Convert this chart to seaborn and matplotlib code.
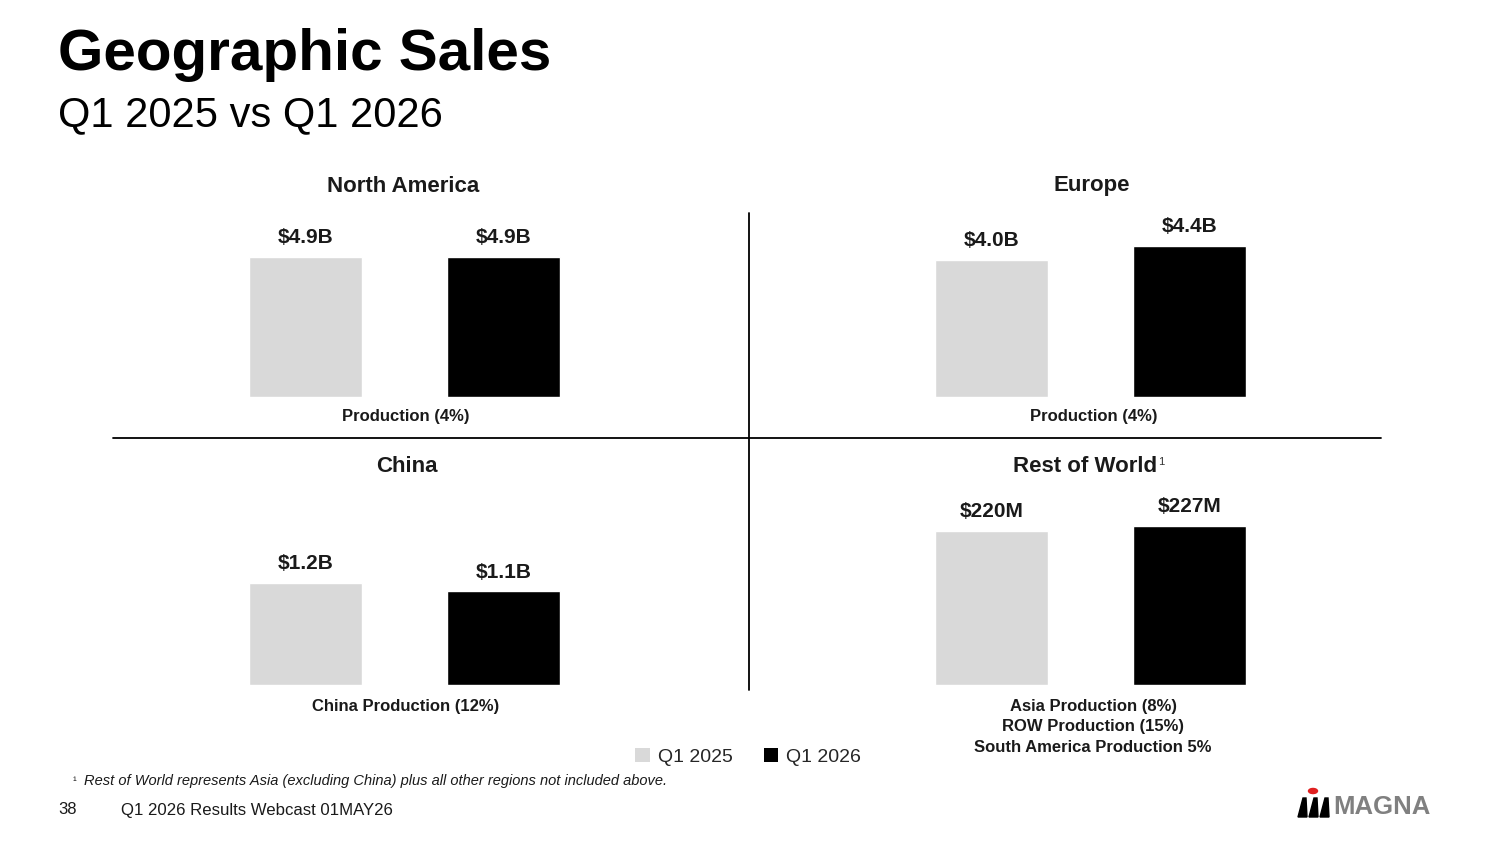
import matplotlib
matplotlib.use("Agg")
import matplotlib.pyplot as plt
from matplotlib.patches import Patch, Circle, Polygon
from matplotlib.lines import Line2D
import seaborn as sns
import pandas as pd

# data
regions = ["North America", "Europe", "China", "Rest of World"]
q1_2025 = [4.9, 4.0, 1.2, 220]
q1_2026 = [4.9, 4.4, 1.1, 227]
lbl_2025 = ["$4.9B", "$4.0B", "$1.2B", "$220M"]
lbl_2026 = ["$4.9B", "$4.4B", "$1.1B", "$227M"]
notes = ["Production (4%)", "Production (4%)", "China Production (12%)",
         "Asia Production (8%)\nROW Production (15%)\nSouth America Production 5%"]
periods = ["Q1 2025", "Q1 2026"]
colors = ["#d9d9d9", "#000000"]

# per-panel y limit (each panel has its own scale on the slide)
ymax = [6.37, 5.30, 2.21, 268.4]

sns.set_theme(style="white")
plt.rcParams["font.family"] = ["Liberation Sans", "DejaVu Sans"]

W, H = 1500, 844
fig = plt.figure(figsize=(15, 8.44), dpi=100)
fig.patch.set_facecolor("white")

def fx(px):
    return px / W

def fy(py):
    return 1 - py / H

# axes boxes in pixels: left, top, right, bottom
boxes = [(206, 215, 603, 397), (892, 215, 1289, 397),
         (206, 497, 603, 685), (892, 497, 1289, 685)]
title_y = [186, 186, 467, 467]
title_x = [403, 1092, 407, 1085]
note_x = [406, 1094, 406, 1093]
note_y = [416, 416, 707, 727]

for i, reg in enumerate(regions):
    l, t, r, b = boxes[i]
    ax = fig.add_axes([fx(l), fy(b), fx(r - l), (b - t) / H])
    df = pd.DataFrame({"period": periods, "value": [q1_2025[i], q1_2026[i]]})
    sns.barplot(data=df, x="period", y="value", hue="period", palette=colors,
                width=0.57, legend=False, ax=ax, saturation=1)
    ax.set_ylim(0, ymax[i])
    ax.set_xlim(-0.5, 1.5)
    ax.axis("off")
    for j, cont in enumerate(ax.containers):
        ax.bar_label(cont, labels=[[lbl_2025[i], lbl_2026[i]][j]], padding=7,
                     fontsize=15, fontweight="bold", color="#1a1a1a")
    fig.text(fx(title_x[i]), fy(title_y[i]), reg, ha="center", va="center",
             fontsize=16, fontweight="bold", color="#1a1a1a")
    fig.text(fx(note_x[i]), fy(note_y[i]), notes[i], ha="center", va="center",
             fontsize=12, fontweight="bold", color="#1a1a1a", linespacing=1.45)

# superscript on Rest of World
fig.text(fx(1158), fy(462), "1", fontsize=8, ha="left", va="center", color="#333333")

# quadrant dividers
fig.add_artist(Line2D([fx(749), fx(749)], [fy(213), fy(690)], color="black", lw=1.3))
fig.add_artist(Line2D([fx(113), fx(1381)], [fy(438), fy(438)], color="black", lw=1.3))

# titles
fig.text(fx(58), fy(55), "Geographic Sales", fontsize=42, fontweight="bold",
         ha="left", va="center", color="black")
fig.text(fx(58), fy(115), "Q1 2025 vs Q1 2026", fontsize=30,
         ha="left", va="center", color="black")

# legend
handles = [Patch(facecolor=c, edgecolor="none", label=p) for c, p in zip(colors, periods)]
fig.legend(handles=handles, loc="center", bbox_to_anchor=(fx(748), fy(757)), ncol=2,
           frameon=False, fontsize=14, handlelength=0.75, handleheight=0.75,
           handletextpad=0.4, columnspacing=1.6)

# footnote and footer
fig.text(fx(73), fy(781), "¹", fontsize=8, ha="left", va="center", color="#1a1a1a")
fig.text(fx(84), fy(781),
         "Rest of World represents Asia (excluding China) plus all other regions not included above.",
         fontsize=10.5, style="italic", ha="left", va="center", color="#1a1a1a")
fig.text(fx(58), fy(810), "38", fontsize=12, ha="left", va="center", color="#1a1a1a")
fig.text(fx(121), fy(810), "Q1 2026 Results Webcast 01MAY26", fontsize=12.1,
         ha="left", va="center", color="#1a1a1a")

# MAGNA logo
fig.add_artist(Circle((fx(1313), fy(791)), radius=4.5 / W, transform=fig.transFigure,
                      color="#e02020"))
for dx in (0, 11, 22):
    fig.add_artist(Polygon([(fx(1298 + dx), fy(817)), (fx(1303 + dx), fy(798)),
                            (fx(1306 + dx), fy(798)), (fx(1307 + dx), fy(817))],
                           closed=True, transform=fig.transFigure, color="black"))
fig.text(fx(1333), fy(807), "MAGNA", fontsize=18.5, fontweight="heavy",
         ha="left", va="center", color="#808080")

fig.savefig("out.png", dpi=100, facecolor="white")
